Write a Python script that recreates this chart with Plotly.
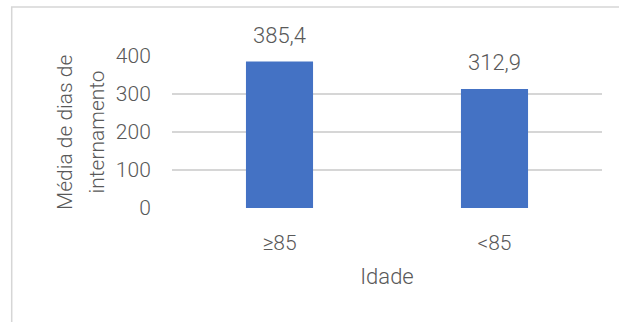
import plotly.graph_objects as go

# Average length of stay by age group
idade = ["≥85", "<85"]
media_dias = [385.4, 312.9]
y_ticks = [0, 100, 200, 300, 400]
y_title_lines = ["Média de dias de", "internamento"]

W, H = 619, 322
M_L, M_R, M_T, M_B = 172, 17, 56, 114
plot_w = W - M_L - M_R
plot_h = H - M_T - M_B

FONT = "Roboto"
GREY = "#595959"
GRID = "#d6d6d6"

fig = go.Figure(
    go.Bar(
        x=idade,
        y=media_dias,
        marker=dict(color="#4472C4", line=dict(width=0)),
        hoverinfo="skip",
    )
)

# value labels above the bars, using a decimal comma
for cat, val in zip(idade, media_dias):
    fig.add_annotation(
        x=cat, y=val, text=f"{val:.1f}".replace(".", ","),
        showarrow=False, yanchor="bottom", yshift=12,
        font=dict(family=FONT, size=22, color=GREY, weight=300),
    )

# two-line rotated y-axis title
for i, line in enumerate(y_title_lines):
    px = 65 + i * 31.5
    fig.add_annotation(
        xref="paper", yref="paper",
        x=(px - M_L) / plot_w, y=0.5,
        text=line, textangle=-90, showarrow=False,
        xanchor="center", yanchor="middle",
        font=dict(family=FONT, size=21, color=GREY, weight=300),
    )

# outer chart frame
fig.add_shape(
    type="rect", xref="paper", yref="paper",
    x0=(11.7 - M_L) / plot_w, x1=2,
    y0=-2, y1=(plot_h + M_T - 7) / plot_h,
    line=dict(color=GRID, width=1.5), fillcolor="rgba(0,0,0,0)", layer="below",
)

fig.update_layout(
    width=W, height=H,
    margin=dict(l=M_L, r=M_R, t=M_T, b=M_B, pad=0),
    paper_bgcolor="white", plot_bgcolor="white",
    bargap=0.688,
    showlegend=False,
    font=dict(family=FONT, size=21, color=GREY, weight=300),
    xaxis=dict(
        showgrid=False, zeroline=False, showline=False,
        ticks="outside", ticklen=16, tickcolor="rgba(0,0,0,0)",
        tickfont=dict(family=FONT, size=21, color=GREY, weight=300),
        title=dict(text="Idade", standoff=14,
                   font=dict(family=FONT, size=22, color=GREY, weight=300)),
        fixedrange=True,
    ),
    yaxis=dict(
        range=[0, 400], tickvals=y_ticks,
        showgrid=True, gridcolor=GRID, gridwidth=1.5,
        zeroline=False, showline=False,
        ticks="outside", ticklen=16, tickcolor="rgba(0,0,0,0)",
        tickfont=dict(family=FONT, size=21, color=GREY, weight=300),
        fixedrange=True,
    ),
)

fig.write_html("out.html")
